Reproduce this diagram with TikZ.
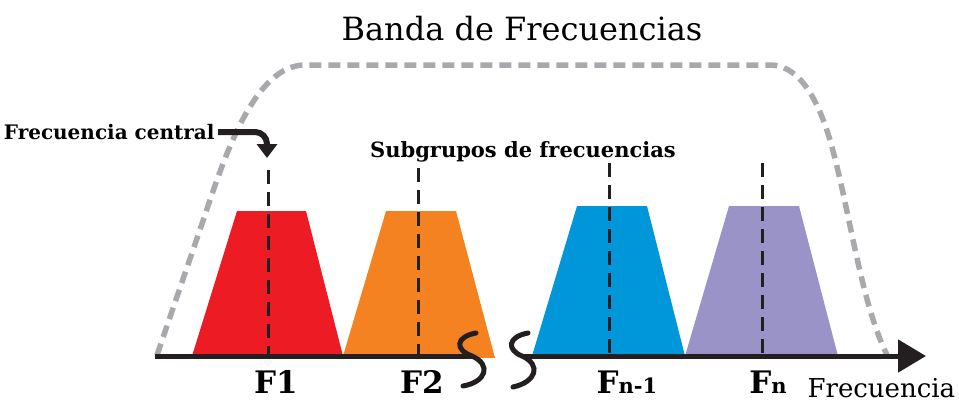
\documentclass[tikz,border=0pt]{standalone}
\usepackage{fontspec}
\setmainfont{DejaVu Serif}
\usepackage{xcolor}
\usepackage{tikz}
\usetikzlibrary{arrows.meta}

\definecolor{bandred}{HTML}{ED1C24}
\definecolor{bandorange}{HTML}{F58220}
\definecolor{bandblue}{HTML}{0096DA}
\definecolor{bandpurple}{HTML}{9993C8}
\definecolor{envgray}{HTML}{A7A9AC}
\definecolor{inkblack}{HTML}{231F20}

\begin{document}
\begin{tikzpicture}[x=1pt, y=-1pt,
		axisline/.style = {inkblack, line width=5pt},
		breakline/.style = {inkblack, line width=5pt, line cap=round},
		centerline/.style = {inkblack, line width=3pt, dash pattern=on 14pt off 8pt},
		envelope/.style = {envgray, line width=5.5pt, dash pattern=on 12pt off 7pt},
		freqlabel/.style = {font=\fontsize{31}{31}\selectfont\bfseries, anchor=base},
		smalllabel/.style = {font=\fontsize{21}{21}\selectfont\bfseries, anchor=base}]
			\useasboundingbox (0,0) rectangle (959,405);

			\def\ax{356};

			% envolvente de la banda
			\draw [envelope] (157,355) -- (205,215)
				.. controls (225,155) and (255,65) .. (305,65) -- (770,65)
				.. controls (795,65) and (815,90) .. (830,140)
				.. controls (850,210) and (860,300) .. (887,355);

			% subgrupos
			\begin{scope}
				\fill [bandred] (192,\ax) -- (237,211) -- (306,211) -- (343,\ax) -- cycle;
				\fill [bandorange] (343,\ax) -- (386,211) -- (456,211) -- (495,358) -- cycle;
				\fill [bandblue] (532,\ax) -- (577,206) -- (647,206) -- (685,\ax) -- cycle;
				\fill [bandpurple] (685,\ax) -- (729,206) -- (799,206) -- (838,\ax) -- cycle;
			\end{scope}

			% eje de frecuencia
			\coordinate (o) at (155,\ax);
			\coordinate (brkA) at (472,\ax);
			\coordinate (brkB) at (522,\ax);
			\coordinate (tip) at (926,\ax);
			\draw [axisline] (o) -- (brkA);
			\draw [axisline, -{Triangle[length=28pt, width=32pt]}] (brkB) -- (tip);
			\draw [breakline] (476,333) .. controls (455,337) and (455,350) .. (brkA)
				.. controls (492,365) and (486,382) .. (463,386);
			\draw [breakline] (528,333) .. controls (507,337) and (507,350) .. (brkB)
				.. controls (542,365) and (536,382) .. (513,387);

			% frecuencias centrales
			\coordinate (c1) at (268,\ax);
			\coordinate (c2) at (418,\ax);
			\coordinate (c3) at (609,\ax);
			\coordinate (c4) at (762,\ax);
			\coordinate (t1) at (268,170);
			\coordinate (t2) at (418,168);
			\coordinate (t3) at (609,163);
			\coordinate (t4) at (762,163);
			\draw [centerline] (t1) -- (c1);
			\draw [centerline] (t2) -- (c2);
			\draw [centerline] (t3) -- (c3);
			\draw [centerline] (t4) -- (c4);

			\node [freqlabel] (f1) at (276,393) {F1};
			\node [freqlabel] (f2) at (422,393) {F2};
			\node [freqlabel] (fn1) at (627,393) {F{\fontsize{21}{21}\selectfont n-1}};
			\node [freqlabel] (fn) at (768,393) {F{\fontsize{21}{21}\selectfont n}};

			% textos
			\node [anchor=base, font=\fontsize{32}{32}\selectfont] (title) at (522,40) {Banda de Frecuencias};
			\node [anchor=base west, font=\fontsize{26}{26}\selectfont] (xlabel) at (804,397) {Frecuencia};
			\node [smalllabel] (sub) at (523,157) {Subgrupos de frecuencias};
			\node [smalllabel, anchor=base east, font=\fontsize{20}{20}\selectfont\bfseries] (central) at (218,139) {Frecuencia central};

			\coordinate (cf) at (267,158);
			\draw [inkblack, line width=6pt, rounded corners=12pt, -{Triangle[length=14pt, width=20pt]}]
				(central.east |- 0,132) -- (267,132) -- (cf);
		\end{tikzpicture}
\end{document}
